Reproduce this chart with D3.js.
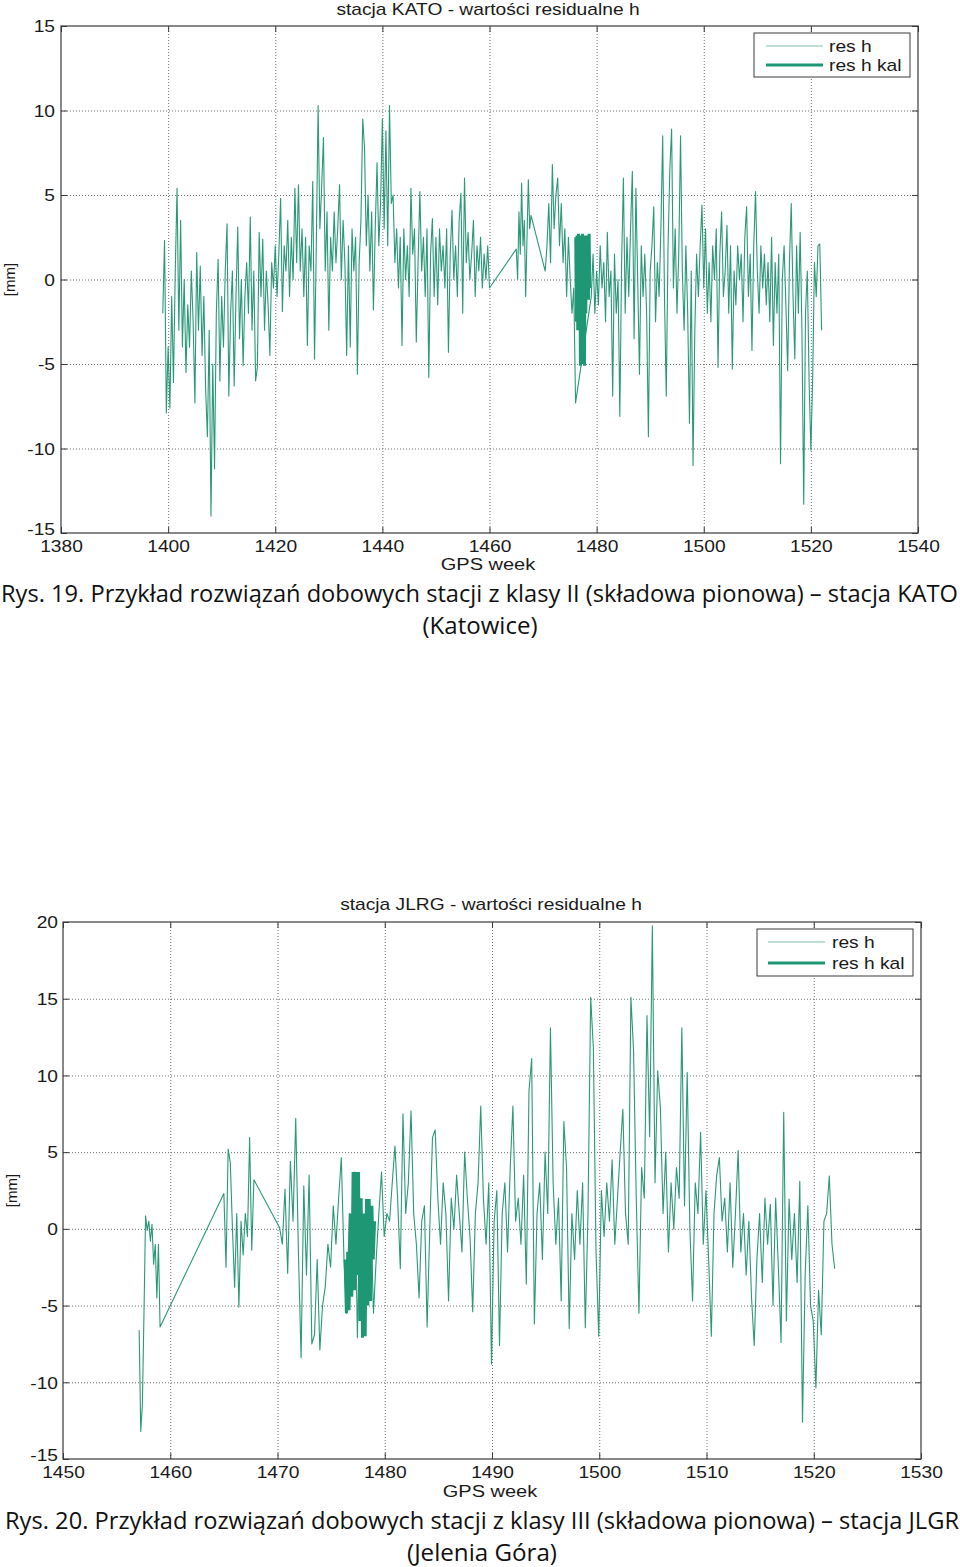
<!DOCTYPE html>
<html><head><meta charset="utf-8">
<script src="https://cdn.jsdelivr.net/npm/d3@7/dist/d3.min.js"></script>
<style>
html,body{margin:0;padding:0;background:#fff;}
svg{display:block;}
</style></head>
<body>
<script>
// ---------------- DATA ----------------
// Chart 1 : stacja KATO
const katoTicksX = [1380,1400,1420,1440,1460,1480,1500,1520,1540];
const katoTicksY = [-15,-10,-5,0,5,10,15];
// res h, segment A: from week 1399.0, 3 samples per week
const katoResH_A = [
 -2.0,2.3,-7.9, -4.0,-7.6,-1.0, -6.1,0.5,5.4, -3.0,3.5,-4.0, 0.0,-5.5,-1.5,
 -4.0,0.5,-2.5, -7.3,1.6,-3.0, 0.8,-4.5,-1.0, -6.5,-9.3,-3.0, -14.0,-5.0,-11.2,
 -2.0,1.2,-6.0, -1.0,-4.0,0.5, 3.3,-6.9,-2.0, 0.5,-6.3,-1.0, 3.1,-3.5,0.0,
 -5.1,-1.0,1.0, -2.0,3.7,-3.0, 0.5,-6.0,-5.2, 2.8,-1.0,2.4, -3.0,0.5,-1.5,
 -4.5,1.0,-0.5, 2.0,-1.0,1.5, 4.8,-1.9,2.0, 0.5,3.5,-1.0, 2.5,0.0,5.4,
 1.0,5.6,0.5, 3.0,-1.0,2.5, -3.9,2.0,0.5, 5.8,-4.7,2.0, 10.3,3.0,5.5,
 8.4,0.5,4.0, -3.0,2.5,0.5, 4.0,1.0,3.0, 5.6,0.0,3.5, 1.0,-4.5,2.0,
 -4.0,3.0,0.5, 2.5,-5.6,1.0, 3.5,9.5,7.8, 2.0,5.0,0.5, 4.0,-1.8,3.0,
 6.9,2.0,4.5, 9.5,3.0,8.8, 2.0,10.3,4.5, 5.0,1.0,3.0, -0.5,2.5,-3.9,
 3.0,0.0,2.0, -1.0,5.4,1.5, 3.0,-3.7,1.0, 5.2,0.5,2.5, -1.0,3.0,-5.8,
 1.5,3.6,-1.0, 2.5,-1.5,3.0, 0.5,2.0,-0.5, 3.0,-4.3,1.5, 4.1,0.0,2.0,
 -1.0,3.5,5.1, -2.0,6.0,1.0, 2.8,0.0,1.5, 3.5,-1.0,2.0, 0.5,2.5,-0.5,
 1.5,0.0,2.0, -0.5
];
// segment B: from week 1465.0, 4 samples per week
const katoResH_B = [1.8,0.0,4.0,1.5,5.7,2.0,3.5,-1.0,2.5,5.9,3.0,3.8];
// segment C: from week 1470.4, 3 samples per week
const katoResH_C = [0.5,2.0,4.5,1.0,6.8,3.0,5.0,6.0,2.0,4.5,1.0,3.0,-1.0,2.5,0.0,-2.0,-0.5,-7.3];
// segment D: from week 1479.0, 3 samples per week
const katoResH_D = [
 -1.0,1.5,-2.0, 0.5,-1.5,2.0, -0.5,1.0,-2.5, 2.8,-1.0,0.5, -6.9,1.5,-2.0,
 0.0,-8.1,1.0, 6.0,-2.0,2.5, -1.0,3.0,6.4, -3.5,5.4,0.0, -5.6,2.0,-1.0,
 1.5,-2.0,-9.3, 0.5,2.0,4.3, -2.5,1.0,-1.0, 3.0,8.5,-1.0, -6.9,2.0,6.5,
 8.9,-0.5,3.0, -2.0,1.5,8.5, 0.5,-3.0,2.0, -2.0,-8.5,0.5, -11.0,-3.0,1.5,
 -1.0,2.0,4.4, -0.5,3.0,-2.0, 1.0,-2.5,2.0, 0.0,3.0,-5.2, 1.5,4.0,-1.0,
 0.5,3.2,-2.0, 2.0,-5.3,0.5, -1.5,2.0,0.0, 1.5,-2.5,2.5, 4.3,-1.0,1.5,
 -4.2,2.0,5.2, 0.5,-2.0,2.0, -0.5,1.5,-1.5, 1.0,-2.5,2.5, -3.9,1.0,-2.0,
 1.5,-10.9,0.0, 2.0,-1.5,-5.4, 1.0,4.5,-1.0, -4.7,2.0,-2.0, 2.8,-3.0,-13.3,
 -2.0,0.5,-6.0, -10.1,-5.9,1.0, -1.0,2.0,2.1, -3.0
];
// res h kal: from week 1476.1, 8 samples per week
const katoResHKal = [2.5,-2.5,2.6,-3.0,2.7,-2.8,2.6,-5.1,2.5,-5.0,2.7,-4.8,2.6,-5.1,2.4,-2.0,2.6,-1.0,2.5,-1.2,2.7,-0.5];

// Chart 2 : stacja JLRG
const jlrgTicksX = [1450,1460,1470,1480,1490,1500,1510,1520,1530];
const jlrgTicksY = [-15,-10,-5,0,5,10,15,20];
// segment A: from week 1457.1, step 0.15
const jlrgResH_A = [-6.6,-13.2,-11.5,-5.5,0.85,-0.1,0.5,-0.8,0.3,-2.3,-1.0,-4.5,-1.0,-6.4];
// segment B: from week 1465.0, step 0.2
const jlrgResH_B = [2.3,-2.5,5.2,4.3,0.0,-3.8,1.0,-5.1,0.5,-1.7,1.0,-0.5,5.95,-1.4,3.2];
// segment C: from week 1470.2, 4 samples per week
const jlrgResH_C = [
 0.07,-1.0,2.6,-2.9, 4.4,0.5,7.2,-1.5, -8.4,2.8,-3.0,3.5, -7.5,-6.9,-2.0,-7.9,
 -5.0,-3.8,-1.0,-2.5, 1.5,-1.0,2.0,4.65, -2.0,-5.5,1.0,-4.4, 3.7,-7.1,1.95,-4.7,
 0.5,-4.0,1.0,-5.5, -2.0,1.0,3.7,-0.5, 1.0,0.5,3.0,5.4, 2.0,-2.6,7.5,1.0,
 3.0,7.7,1.0,-1.0, -4.5,0.5,1.5,-6.4, 0.0,5.95,6.45,2.0, -1.0,3.0,1.0,-4.7,
 2.0,0.0,3.5,1.0, -1.5,5.0,2.0,-0.5, -5.4,1.0,3.0,8.0, 2.0,-1.0,3.0,-8.8,
 0.5,2.5,-7.6,1.0, 3.0,-1.5,4.0,8.0, 0.5,2.0,-1.0,3.5, -3.6,9.0,11.1,-6.2,
 1.0,3.0,-2.0,5.0, 1.0,13.1,3.0,-1.0, 2.0,-4.7,7.0,4.0, -6.5,1.0,-2.0,2.5,
 -1.0,3.0,-6.45,1.0, 15.1,11.8,-1.5,-7.0, 2.5,-0.5,3.0,0.5, 4.5,-1.0,2.0,5.0,
 7.8,1.0,-1.0,15.1, 11.6,2.0,-5.5,4.0, 2.0,13.9,6.0,19.75, 3.0,10.3,7.9,1.0,
 5.0,-1.5,3.0,0.0, 4.0,2.0,13.1,1.5, 10.2,0.0,-4.7,3.0, 1.0,6.3,-1.0,2.5,
 -2.0,-7.0,1.0,3.5, 4.65,0.5,2.0,-1.5, 3.0,-2.5,1.0,5.1, -1.5,1.0,-3.0,0.5,
 -4.5,-7.6,-2.0,1.0, -3.5,2.0,-1.0,1.6, -5.0,2.0,-2.5,-7.4, 7.6,-6.0,1.95,-2.0,
 1.0,-3.5,3.1,-12.6, -3.0,1.5,-5.0,-6.0, -10.35,-4.0,-6.9,0.5, 1.0,3.45,-1.0,-2.6
];
// res h kal: from week 1476.3, 8 samples per week
const jlrgResHKal = [-2.0,-5.5,-1.5,-5.3,1.0,-4.4,3.7,-4.0,3.7,-3.0,3.7,-6.0,2.0,-7.1,1.0,-7.0,1.95,-5.0,1.95,-4.7,1.5,-2.0,0.5];

const legendLabels = ["res h","res h kal"];

// segment tables: [start week, step, values]
const katoSegs = [[1399,1/3,katoResH_A],[1465,0.25,katoResH_B],[1470.4,1/3,katoResH_C],[1479,1/3,katoResH_D]];
const katoKalSegs = [[1476.1,0.125,katoResHKal]];
const jlrgSegs = [[1457.1,0.15,jlrgResH_A],[1465,0.2,jlrgResH_B],[1470.2,0.25,jlrgResH_C]];
const jlrgKalSegs = [[1476.3,0.125,jlrgResHKal]];

function expand(segs){
  const out=[];
  segs.forEach(([s,st,vals])=>vals.forEach((v,i)=>out.push({w:s+i*st,v:v})));
  return out;
}

// ---------------- DRAWING ----------------
const W=960,H=1567, SX=1.2, FS=16;
const FONT="'Liberation Sans', Arial, Helvetica, sans-serif";
const CAPFONT="'Open Sans','Noto Sans',sans-serif";
const LINE_C="#2b9878", KAL_C="#1e9874";

const svg=d3.select("body").append("svg").attr("width",W).attr("height",H)
  .attr("font-family",FONT);
svg.append("rect").attr("width",W).attr("height",H).attr("fill","#fff");

function stext(g,x,y,str,opt={}){
  return g.append("text")
    .attr("transform",`translate(${x},${y}) scale(${opt.sx||SX},1)`+(opt.rot?` rotate(${opt.rot})`:""))
    .attr("text-anchor",opt.anchor||"middle")
    .attr("font-size",opt.size||FS)
    .attr("fill",opt.fill||"#1a1a1a")
    .text(str);
}

function chart(c){
  const g=svg.append("g");
  const x=d3.scaleLinear().domain(c.xd).range([c.l,c.r]);
  const y=d3.scaleLinear().domain(c.yd).range([c.b,c.t]);
  const w=c.r-c.l,h=c.b-c.t;

  // grid
  const gx=g.append("g").attr("transform",`translate(0,${c.b})`)
    .call(d3.axisBottom(x).tickValues(c.tx.slice(1,-1)).tickSize(-h).tickFormat(""));
  const gy=g.append("g").attr("transform",`translate(${c.l},0)`)
    .call(d3.axisLeft(y).tickValues(c.ty.slice(1,-1)).tickSize(-w).tickFormat(""));
  [gx,gy].forEach(a=>{a.select(".domain").remove();
    a.selectAll(".tick line").attr("stroke","#707070").attr("stroke-dasharray","1,2").attr("stroke-width",1);});

  // data lines
  const line=d3.line().x(d=>x(d.w)).y(d=>y(d.v));
  g.append("path").datum(expand(c.segs)).attr("d",line)
    .attr("fill","none").attr("stroke",LINE_C).attr("stroke-width",1.1).attr("stroke-linejoin","round");
  g.append("path").datum(expand(c.kal)).attr("d",line)
    .attr("fill","none").attr("stroke",KAL_C).attr("stroke-width",3).attr("stroke-linejoin","miter");

  // axes (inward ticks on all sides)
  const fmt=d=>String(d);
  const ab=g.append("g").attr("transform",`translate(0,${c.b})`)
    .call(d3.axisBottom(x).tickValues(c.tx).tickSize(-6).tickSizeOuter(0).tickFormat(fmt));
  const at=g.append("g").attr("transform",`translate(0,${c.t})`)
    .call(d3.axisTop(x).tickValues(c.tx).tickSize(-6).tickSizeOuter(0).tickFormat(""));
  const al=g.append("g").attr("transform",`translate(${c.l},0)`)
    .call(d3.axisLeft(y).tickValues(c.ty).tickSize(-6).tickSizeOuter(0).tickFormat(fmt));
  const ar=g.append("g").attr("transform",`translate(${c.r},0)`)
    .call(d3.axisRight(y).tickValues(c.ty).tickSize(-6).tickSizeOuter(0).tickFormat(""));
  [ab,at,al,ar].forEach(a=>{a.select(".domain").remove();
    a.selectAll(".tick line").attr("stroke","#3a3a3a");
    a.selectAll(".tick text").attr("font-family",FONT).attr("font-size",FS).attr("fill","#1a1a1a");});
  ab.selectAll(".tick text").attr("y",null).attr("dy",null)
    .attr("transform",`translate(0,${c.xlabOff}) scale(${SX},1)`);
  al.selectAll(".tick text").attr("x",null).attr("dy","0.36em")
    .attr("transform",d=>`translate(${c.ylabOff},${d===c.yd[0]?-4:0}) scale(${SX},1)`);

  // frame
  g.append("rect").attr("x",c.l).attr("y",c.t).attr("width",w).attr("height",h)
    .attr("fill","none").attr("stroke","#3a3a3a").attr("stroke-width",1.2);

  // texts
  stext(g,c.titleX,c.titleY,c.title);
  stext(g,c.gpsX,c.gpsY,"GPS week",{sx:1.25});
  stext(g,c.mmX,(c.t+c.b)/2,"[mm]",{rot:-90,sx:1,size:15});

  // legend
  const L=c.leg;
  g.append("rect").attr("x",L.x).attr("y",L.y).attr("width",L.w).attr("height",L.h)
    .attr("fill","#fff").attr("stroke","#3a3a3a").attr("stroke-width",1);
  legendLabels.forEach((lab,i)=>{
    const yy=L.rows[i];
    g.append("line").attr("x1",L.lx1).attr("x2",L.lx2).attr("y1",yy).attr("y2",yy)
      .attr("stroke",i?KAL_C:"#7cc2ad").attr("stroke-width",i?3:1);
    stext(g,L.tx,yy+5.5,lab,{anchor:"start"});
  });

  // caption
  g.append("text").attr("x",c.cap1X).attr("y",c.cap1Y).attr("font-family",CAPFONT)
    .attr("font-size",23).attr("fill","#111").attr("textLength",c.cap1W)
    .attr("lengthAdjust","spacingAndGlyphs").text(c.cap1);
  g.append("text").attr("x",c.cap2X).attr("y",c.cap2Y).attr("font-family",CAPFONT)
    .attr("font-size",23).attr("fill","#111").attr("text-anchor","middle")
    .attr("textLength",c.cap2W).attr("lengthAdjust","spacingAndGlyphs").text(c.cap2);
}

chart({
  xd:[1380,1540], yd:[-15,15], l:61, r:918, t:26, b:533,
  tx:katoTicksX, ty:katoTicksY, segs:katoSegs, kal:katoKalSegs,
  xlabOff:19, ylabOff:-6,
  title:"stacja KATO - wartości residualne h", titleX:488, titleY:15,
  gpsX:488, gpsY:570, mmX:15,
  leg:{x:754,y:33,w:156,h:44,lx1:766,lx2:823,tx:829,rows:[46,65]},
  cap1:"Rys. 19. Przykład rozwiązań dobowych stacji z klasy II (składowa pionowa) – stacja KATO",
  cap1X:1, cap1Y:602, cap1W:957,
  cap2:"(Katowice)", cap2X:480, cap2Y:634, cap2W:115
});

chart({
  xd:[1450,1530], yd:[-15,20], l:63, r:921, t:922, b:1459,
  tx:jlrgTicksX, ty:jlrgTicksY, segs:jlrgSegs, kal:jlrgKalSegs,
  xlabOff:19, ylabOff:-5,
  title:"stacja JLRG - wartości residualne h", titleX:491, titleY:910,
  gpsX:490, gpsY:1497, mmX:17,
  leg:{x:757,y:929,w:156,h:47,lx1:768,lx2:825,tx:832,rows:[942,963]},
  cap1:"Rys. 20. Przykład rozwiązań dobowych stacji z klasy III (składowa pionowa) – stacja JLGR",
  cap1X:5, cap1Y:1529, cap1W:954,
  cap2:"(Jelenia Góra)", cap2X:482, cap2Y:1561, cap2W:150
});
</script>
</body></html>
